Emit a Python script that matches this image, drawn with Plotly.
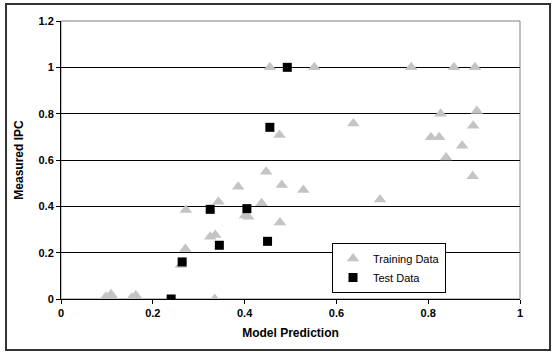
import plotly.graph_objects as go

# Training data (model prediction, measured IPC)
train_x = [0.098, 0.109, 0.113, 0.154, 0.163, 0.335,
           0.261, 0.271, 0.272, 0.325, 0.336, 0.343, 0.386, 0.401, 0.408,
           0.437, 0.447, 0.455, 0.476, 0.481, 0.477, 0.528, 0.552, 0.637,
           0.695, 0.763, 0.806, 0.824, 0.827, 0.839, 0.856, 0.874, 0.902,
           0.898, 0.906, 0.897]
train_y = [0.010, 0.020, 0.005, 0.005, 0.015, 0.000,
           0.147, 0.216, 0.384, 0.269, 0.276, 0.420, 0.485, 0.360, 0.355,
           0.413, 0.549, 1.000, 0.708, 0.492, 0.330, 0.470, 1.000, 0.758,
           0.430, 1.000, 0.698, 0.698, 0.800, 0.611, 1.000, 0.662, 1.000,
           0.748, 0.811, 0.530]

# Test data
test_x = [0.240, 0.264, 0.325, 0.345, 0.405, 0.450, 0.455, 0.493]
test_y = [0.000, 0.160, 0.387, 0.232, 0.390, 0.249, 0.741, 1.000]

x_ticks = [0, 0.2, 0.4, 0.6, 0.8, 1]
y_ticks = [0, 0.2, 0.4, 0.6, 0.8, 1, 1.2]

FONT = "Arial, Liberation Sans, sans-serif"

fig = go.Figure()
fig.add_trace(go.Scatter(
    x=train_x, y=train_y, mode="markers", name="Training Data",
    marker=dict(symbol="triangle-up", size=11, color="#c4c4c4", line=dict(width=0)),
))
fig.add_trace(go.Scatter(
    x=test_x, y=test_y, mode="markers", name="Test Data",
    marker=dict(symbol="square", size=9, color="black", line=dict(width=0)),
))

fig.update_layout(
    width=553, height=352,
    margin=dict(l=61, r=33, t=21, b=53),
    paper_bgcolor="white", plot_bgcolor="white",
    font=dict(family=FONT, size=11, color="black"),
    showlegend=True,
    legend=dict(
        x=0.7146, y=0.0216, xanchor="center", yanchor="bottom",
        bgcolor="white", bordercolor="black", borderwidth=1,
        font=dict(family=FONT, size=11, color="black"),
        itemwidth=30, tracegroupgap=0,
    ),
    xaxis=dict(
        range=[0, 1], tickvals=x_ticks, ticktext=[f"<b>{v:g}</b>" for v in x_ticks],
        showgrid=False, zeroline=False,
        showline=True, linecolor="black", linewidth=1,
        ticks="outside", ticklen=4, tickcolor="black",
        title=dict(text="<b>Model Prediction</b>", font=dict(size=12), standoff=10),
        automargin=False,
    ),
    yaxis=dict(
        range=[0, 1.2], tickvals=y_ticks, ticktext=[f"<b>{v:g}</b>" for v in y_ticks],
        showgrid=True, gridcolor="black", gridwidth=1, zeroline=False,
        showline=True, linecolor="black", linewidth=1,
        ticks="outside", ticklen=4, tickcolor="black",
        title=dict(text="<b>Measured IPC</b>", font=dict(size=12), standoff=12),
        automargin=False,
    ),
    shapes=[
        dict(type="rect", xref="paper", yref="paper", x0=0, y0=0, x1=1, y1=1,
             line=dict(color="#808080", width=1), layer="below"),
        dict(type="rect", xref="paper", yref="paper",
             x0=-0.1198, y0=-0.1835, x1=1.0654, y1=1.0612,
             line=dict(color="#333333", width=2)),
    ],
)

fig.write_html("out.html", config={"displayModeBar": False},
               post_script="document.body.style.margin='0';document.body.style.padding='0';")
